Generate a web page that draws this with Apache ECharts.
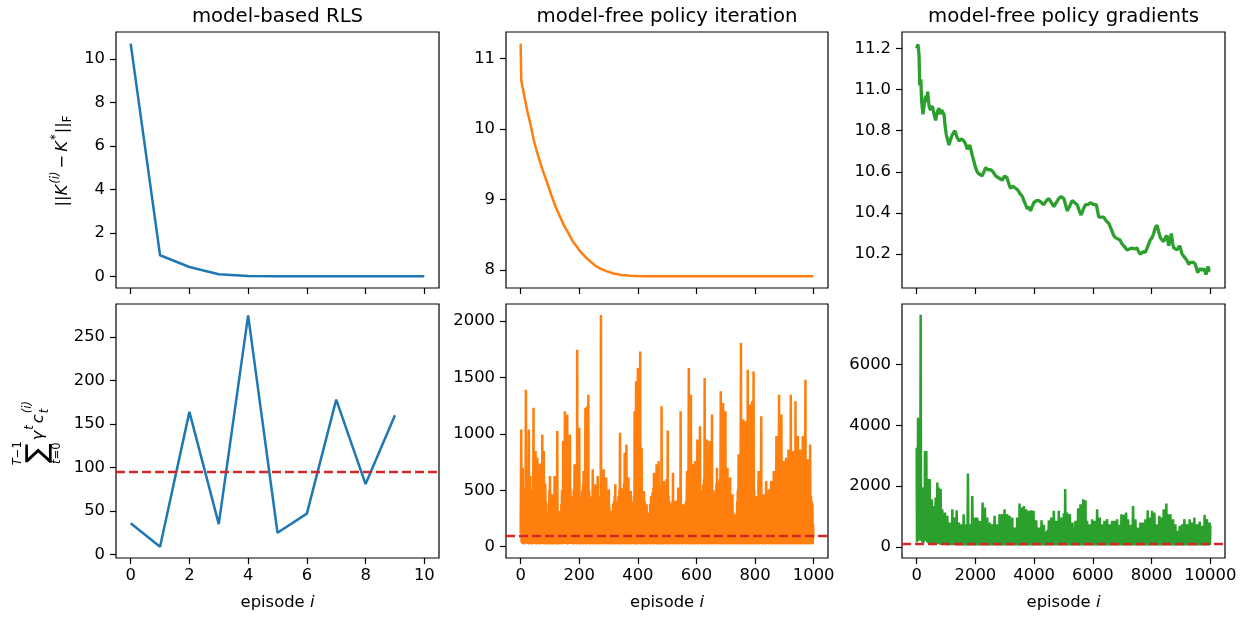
<!DOCTYPE html>
<html><head><meta charset="utf-8">
<script src="https://cdn.jsdelivr.net/npm/echarts@6/dist/echarts.min.js"></script>
<style>html,body{margin:0;padding:0;background:#fff}#c{width:1244px;height:617px}</style>
</head><body><div id="c"></div>
<script>
// ---------- data ----------
const panelTitles = ['model-based RLS', 'model-free policy iteration', 'model-free policy gradients'];
const optimalCost = 95;

const rlsEpisodes = [0, 1, 2, 3, 4, 5, 6, 7, 8, 9, 10];
const rlsGainError = [10.7, 0.97, 0.43, 0.10, 0.02, 0.005, 0.002, 0.001, 0, 0, 0];
const rlsCostEpisodes = [0, 1, 2, 3, 4, 5, 6, 7, 8, 9];
const rlsCost = [36, 9, 164, 35, 275, 25, 47, 178, 81, 160];

// [episode, ||K-K*||]
const piGainError = [[0,11.21],[2,10.69],[10,10.52],[22,10.27],[35,10.04],[45,9.84],[56,9.67],[68,9.51],[80,9.36],[91,9.23],[105,9.06],[119,8.90],[133,8.77],[147,8.64],[162,8.53],[176,8.42],[190,8.34],[204,8.26],[220,8.19],[238,8.12],[255,8.06],[272,8.02],[295,7.98],[317,7.95],[345,7.93],[374,7.92],[400,7.915],[430,7.91],[500,7.91],[600,7.91],[700,7.91],[800,7.91],[900,7.91],[999,7.91]];

// [episode, discounted cost]
const piCost = [[0,120],[2,1038],[3,40],[4,560],[5,30],[7,700],[8,25],[9,450],[10,40],[12,520],[13,20],[15,380],[16,35],[18,1391],[19,30],[20,520],[21,40],[23,600],[24,25],[25,430],[26,30],[28,1038],[29,20],[30,480],[31,40],[33,627],[34,25],[35,350],[36,30],[38,500],[39,20],[40,420],[41,35],[43,560],[44,1230],[45,30],[46,480],[47,25],[49,600],[50,40],[51,847],[52,30],[53,450],[54,20],[56,560],[57,788],[58,30],[60,400],[61,25],[62,520],[63,35],[65,480],[66,736],[67,20],[68,380],[69,40],[71,500],[72,30],[74,994],[75,25],[76,520],[77,40],[79,847],[80,30],[81,450],[82,20],[84,560],[85,35],[86,400],[87,25],[88,300],[89,40],[91,288],[92,20],[93,250],[94,30],[96,380],[97,25],[98,500],[99,35],[100,627],[101,20],
[102,300],[103,30],[105,380],[106,25],[108,465],[109,40],[110,320],[111,20],[113,400],[114,35],[116,627],[117,25],[118,300],[119,30],[121,400],[122,20],[123,350],[124,40],[125,1024],[126,30],[128,280],[129,20],[131,200],[132,35],[134,318],[135,25],[136,250],[137,30],[139,380],[140,20],
[141,500],[142,35],[143,450],[144,25],[145,936],[146,30],[147,520],[148,40],[150,600],[151,1200],[152,25],[153,500],[154,30],[156,620],[157,35],[159,1171],[160,20],[161,550],[162,30],[164,480],[165,600],[166,25],[168,994],[169,40],[170,520],[171,30],[173,450],[174,25],[176,348],[177,35],[178,300],[179,20],[181,500],[182,30],[184,730],[185,25],[186,420],[187,40],[189,400],[190,30],[191,600],[192,20],[193,1745],[194,35],[195,500],[196,25],[198,560],[199,30],[200,1053],[201,40],[202,450],[203,20],[205,380],[206,30],[207,348],[208,25],[210,500],[211,35],[213,560],[214,20],[215,670],[216,30],[218,560],[219,25],[221,1230],[222,40],[223,600],[224,20],[226,650],[227,1245],[228,30],[229,700],[230,35],[231,1347],[232,25],[234,500],[235,30],[236,420],[237,20],[238,436],[239,35],
[241,380],[242,25],[244,450],[245,30],[246,686],[247,20],[249,420],[250,35],[252,400],[253,25],[255,553],[256,30],[258,380],[259,20],[261,450],[262,40],[263,627],[264,25],[266,350],[267,30],[269,300],[270,20],[272,450],[273,35],[274,2053],[275,30],[276,600],[277,25],[279,500],[280,40],[281,450],[282,20],[283,686],[284,30],[286,420],[287,25],[289,500],[290,35],[292,612],[293,20],[295,400],[296,30],[298,300],[299,25],[301,509],[302,40],[303,350],[304,20],[306,250],[307,30],[308,200],[309,25],[311,318],[312,35],[313,250],[314,20],[316,380],[317,30],[318,400],[319,25],
[321,450],[322,40],[323,553],[324,20],[326,400],[327,30],[329,350],[330,25],[331,406],[332,35],[334,450],[335,20],[337,500],[338,30],[339,1009],[340,25],[341,480],[342,40],[344,520],[345,20],[347,494],[348,30],[350,420],[351,25],[353,560],[354,35],[355,832],[356,20],[358,500],[359,30],[361,906],[362,25],[363,450],[364,40],[366,520],[367,20],[368,612],[369,30],[371,400],[372,25],[374,450],[375,35],[376,494],[377,20],[379,400],[380,30],[382,350],[383,25],[384,377],[385,40],[387,450],[388,20],[389,1200],[390,30],[391,600],[392,25],[394,1465],[395,35],[396,650],[397,20],[398,700],[399,30],[400,1583],[401,40],[402,650],[403,25],[405,700],[406,30],[408,1730],[409,20],[410,600],[411,35],[413,877],[414,25],[415,450],[416,30],[418,420],[419,20],[421,494],[422,40],[424,400],[425,25],[427,350],[428,30],[430,377],[431,20],[433,300],[434,35],[436,300],[437,25],[439,288],[440,30],
[442,380],[443,20],[445,450],[446,35],[447,377],[448,25],[450,480],[451,30],[453,520],[454,20],[455,656],[456,40],[458,500],[459,25],[461,560],[462,30],[464,730],[465,20],[466,480],[467,35],[469,600],[470,25],[471,760],[472,30],[474,500],[475,20],[477,520],[478,40],[479,480],[480,25],[481,1245],[482,30],[484,500],[485,20],[487,450],[488,35],[489,583],[490,25],[492,420],[493,30],[495,480],[496,20],[498,600],[499,40],[500,500],[501,25],[502,1030],[503,30],[505,450],[506,20],[508,400],[509,35],[510,377],[511,25],[513,300],[514,30],[516,350],[517,20],[518,400],[519,40],
[520,656],[521,25],[523,300],[524,30],[526,350],[527,20],[529,406],[530,35],[532,300],[533,25],[535,380],[536,30],[538,524],[539,20],[541,350],[542,40],[544,400],[545,25],[546,1200],[547,30],[549,350],[550,20],[552,300],[553,377],[554,35],[556,300],[557,25],[559,350],[560,30],[561,377],[562,20],[564,400],[565,40],[567,450],[568,670],[569,25],
[571,500],[572,30],[574,1583],[575,20],[576,600],[577,35],[579,650],[580,25],[581,1347],[582,30],[584,550],[585,20],[587,600],[588,40],[589,730],[590,25],[592,550],[593,30],[595,760],[596,20],[598,600],[599,35],[601,650],[602,25],[603,950],[604,30],[606,560],[607,20],[609,600],[610,40],[612,1068],[613,25],[615,500],[616,30],[618,450],[619,20],[620,377],[621,35],[623,550],[624,25],[626,600],[627,30],[628,1495],[629,20],[631,600],[632,40],[634,650],[635,25],[636,950],[637,30],[639,550],[640,20],[642,600],[643,35],[645,936],[646,25],[648,600],[649,30],[651,650],[652,20],[653,1171],[654,40],[656,500],[657,25],[659,450],[660,30],[662,348],[663,20],[665,500],[666,35],[668,560],[669,25],[670,700],[671,30],[673,500],[674,20],[676,550],[677,583],[678,40],[680,600],[681,25],[683,1377],[684,30],[685,700],[686,20],[688,750],[689,35],[691,1274],[692,25],[693,700],[694,30],[696,750],[697,20],[699,1200],[700,40],[701,600],[702,25],[704,650],[705,30],[706,700],[707,20],[709,550],[710,35],[712,500],[713,25],[715,612],[716,30],[718,450],[719,20],
[721,400],[722,40],[723,465],[724,25],[726,300],[727,30],[728,250],[729,20],[731,230],[732,35],[733,288],[734,25],[736,250],[737,30],[739,400],[740,20],
[741,500],[742,35],[744,818],[745,25],[746,550],[747,30],[749,600],[750,20],[752,1804],[753,40],[754,600],[755,25],[757,600],[758,30],[760,1127],[761,20],[762,550],[763,35],[765,600],[766,25],[768,1112],[769,30],[770,550],[771,20],[773,600],[774,40],[775,1568],[776,25],[777,550],[778,30],[780,600],[781,20],[783,1259],[784,35],[785,550],[786,25],[788,600],[789,30],[790,1289],[791,20],[792,600],[793,40],[795,1553],[796,25],[797,500],[798,30],[800,450],[801,20],[803,450],[804,35],[806,400],[807,25],[809,450],[810,30],[812,670],[813,20],[815,450],[816,40],[818,480],[819,25],[821,1156],[822,30],[824,450],[825,20],[827,400],[828,35],[829,465],[830,25],[832,400],[833,30],[835,450],[836,20],[838,583],[839,40],[841,400],[842,25],[844,450],[845,30],[847,509],[848,20],[850,420],[851,35],[853,450],[854,25],[855,583],[856,30],[858,480],[859,20],[861,500],[862,40],[864,670],[865,25],[867,520],[868,30],[870,560],[871,20],[873,980],[874,35],[876,560],[877,25],[879,600],[880,30],[882,1347],[883,20],[884,600],[885,40],[887,650],[888,25],[890,1171],[891,30],[893,560],[894,20],[896,520],[897,35],[898,760],[899,25],[901,520],[902,30],[904,560],[905,20],[906,788],[907,40],[909,520],[910,25],[912,560],[913,30],[914,862],[915,20],[917,520],[918,35],[920,600],[921,25],[922,1347],[923,30],[925,560],[926,20],[928,600],[929,40],[930,847],[931,25],[933,560],[934,30],[936,600],[937,20],[938,1289],[939,35],[941,560],[942,25],[944,600],[945,30],[946,980],[947,20],[949,560],[950,40],[952,600],[953,25],[954,862],[955,30],[957,560],[958,20],[960,600],[961,35],[963,980],[964,25],[966,560],[967,30],[969,600],[970,20],[972,1480],[973,40],[975,560],[976,25],[978,600],[979,30],[980,774],[981,20],[983,520],[984,35],[986,560],[987,25],[988,906],[989,30],[991,450],[992,20],[994,400],[995,40],[996,377],[997,25],[998,200],[999,80]];

// [episode, ||K-K*||]
const pgGainError = [[0,11.20],[44,11.22],[80,11.17],[105,11.02],[140,11.05],[170,10.94],[215,10.88],[260,10.93],[306,10.97],[340,10.94],[374,10.99],[420,10.92],[470,10.90],[534,10.92],[590,10.88],[646,10.85],[700,10.89],[760,10.91],[800,10.88],[850,10.90],[930,10.88],[970,10.82],[1010,10.78],[1100,10.73],[1160,10.76],[1213,10.78],[1300,10.80],[1370,10.77],[1440,10.75],[1530,10.76],[1610,10.75],[1680,10.73],[1723,10.71],[1810,10.73],[1893,10.68],[1950,10.65],[2006,10.62],[2060,10.60],[2120,10.59],[2230,10.58],[2290,10.60],[2347,10.62],[2430,10.61],[2517,10.61],[2600,10.60],[2687,10.58],[2800,10.57],[2915,10.56],[3000,10.58],[3080,10.57],[3140,10.54],[3197,10.52],[3280,10.53],[3367,10.52],[3450,10.51],[3537,10.49],[3600,10.48],[3650,10.46],[3710,10.44],[3764,10.42],[3820,10.43],[3877,10.41],[3930,10.43],[3990,10.45],[4080,10.46],[4160,10.46],[4250,10.45],[4330,10.44],[4420,10.46],[4500,10.47],[4590,10.45],[4670,10.43],[4750,10.45],[4840,10.47],[4920,10.48],[5010,10.47],[5070,10.44],[5125,10.41],[5200,10.43],[5295,10.46],[5380,10.45],[5465,10.44],[5540,10.41],[5600,10.39],[5680,10.42],[5748,10.44],[5830,10.44],[5918,10.45],[6030,10.44],[6120,10.44],[6160,10.41],[6201,10.38],[6290,10.38],[6370,10.38],[6460,10.36],[6541,10.35],[6600,10.33],[6655,10.31],[6710,10.29],[6768,10.28],[6840,10.275],[6916,10.27],[6990,10.25],[7053,10.24],[7110,10.23],[7166,10.22],[7250,10.225],[7336,10.23],[7420,10.225],[7506,10.23],[7560,10.21],[7619,10.20],[7700,10.21],[7789,10.21],[7850,10.23],[7903,10.25],[7960,10.27],[8016,10.28],[8070,10.30],[8129,10.33],[8186,10.34],[8240,10.31],[8299,10.28],[8350,10.27],[8412,10.26],[8470,10.28],[8526,10.29],[8583,10.24],[8630,10.27],[8673,10.30],[8720,10.25],[8753,10.23],[8810,10.225],[8866,10.22],[8910,10.23],[8957,10.24],[9000,10.22],[9036,10.20],[9090,10.19],[9150,10.19],[9200,10.17],[9263,10.15],[9320,10.16],[9376,10.16],[9430,10.16],[9490,10.15],[9530,10.13],[9569,10.11],[9610,10.12],[9660,10.13],[9720,10.12],[9773,10.13],[9810,10.12],[9853,10.10],[9890,10.12],[9921,10.14],[9960,10.12],[10000,10.12]];

// [episode, discounted cost]
const pgCost = [[0,3265],[10,150],[25,3000],[35,200],[45,4250],[55,250],[65,3500],[72,200],[80,4200],[92,300],[105,2500],[118,200],[136,7644],[150,200],[170,1500],[190,150],[215,1951],[230,120],[250,1500],[265,200],[283,3154],[295,250],[306,1800],[318,200],[329,3154],[340,180],[352,1500],[362,150],[374,2236],[390,120],[408,1500],[425,130],[442,2236],[458,150],[476,1300],[492,100],[510,1566],[530,100],[550,1100],[570,90],[590,1347],[605,80],[618,1100],[632,100],[646,1620],[660,120],[675,1200],[690,90],[703,2115],[718,100],[732,1300],[746,80],[760,1951],[774,100],[788,1300],[802,70],[816,1900],[830,80],[845,1000],[860,60],[873,1239],[896,70],[918,900],[940,60],[964,1130],[985,80],[1004,850],[1024,60],[1043,1018],[1066,50],[1088,750],[1112,60],[1134,800],[1154,50],[1173,750],[1194,60],[1213,1239],[1233,50],[1253,800],[1273,60],[1293,965],[1310,50],[1327,750],[1345,60],[1361,1206],[1380,40],[1400,700],[1420,50],[1440,800],[1460,40],[1480,650],[1500,50],[1520,745],[1540,40],[1560,700],[1580,50],[1600,1075],[1617,40],[1633,700],[1650,50],[1667,745],[1690,40],[1706,650],[1726,50],[1746,2411],[1763,40],[1780,650],[1797,50],[1814,745],[1834,40],[1853,700],[1873,50],[1893,1675],[1916,40],[1938,700],[1961,50],[1984,965],[2004,40],[2023,700],[2043,50],[2063,965],[2083,40],[2103,650],[2123,50],[2143,855],[2168,40],[2194,700],[2220,50],[2245,1458],[2265,40],[2285,750],[2305,50],[2324,1293],[2344,40],[2364,700],[2384,50],[2404,965],[2424,40],[2444,650],[2464,50],[2483,800],[2506,40],[2528,600],[2551,50],[2574,745],[2594,40],[2614,650],[2634,50],[2653,1018],[2676,40],[2698,650],[2721,50],[2744,745],[2764,40],[2784,700],[2804,50],[2823,1075],[2846,40],[2868,700],[2891,50],[2914,1075],[2934,40],[2954,750],[2974,50],[2993,1239],[3016,40],[3038,750],[3061,50],[3084,1075],[3104,40],[3124,700],[3144,50],[3163,1018],[3186,40],[3208,650],[3231,50],[3254,965],[3277,40],[3300,550],[3323,50],[3345,636],[3365,40],[3385,600],[3405,50],[3424,965],[3444,40],[3464,750],[3484,50],[3503,1425],[3520,40],[3537,800],[3554,50],[3571,1293],[3591,40],[3611,800],[3631,50],[3651,1347],[3671,40],[3691,750],[3711,50],[3730,1239],[3753,40],[3776,700],[3799,50],[3821,1185],[3841,40],[3861,700],[3881,50],[3900,1206],[3920,40],[3940,700],[3960,50],[3979,1185],[4002,40],[4025,650],[4048,50],[4070,876],[4093,40],[4116,550],[4139,50],[4161,636],[4184,40],[4207,550],[4230,50],[4252,876],[4272,40],[4292,600],[4312,50],[4331,723],[4351,40],[4371,500],[4391,50],[4410,504],[4433,40],[4456,550],[4479,50],[4501,876],[4521,40],[4541,600],[4561,50],[4580,965],[4603,40],[4626,650],[4649,50],[4671,1185],[4691,40],[4711,650],[4731,50],[4751,855],[4774,40],[4796,650],[4819,50],[4841,1185],[4861,40],[4881,650],[4901,50],[4921,965],[4943,40],[4966,650],[4989,50],[5011,1100],[5023,40],[5034,700],[5046,50],[5057,1900],[5074,40],[5091,650],[5108,50],[5125,1130],[5148,40],[5170,650],[5193,50],[5215,1075],[5238,40],[5261,600],[5284,50],[5306,800],[5332,40],[5357,600],[5383,50],[5408,855],[5431,40],[5454,650],[5477,50],[5499,1272],[5519,40],[5539,750],[5559,50],[5578,1403],[5601,40],[5624,800],[5647,50],[5669,1566],[5689,40],[5709,850],[5729,50],[5748,1534],[5762,40],[5776,700],[5791,50],[5805,855],[5828,40],[5851,600],[5874,50],[5896,745],[5916,40],[5936,600],[5956,50],[5975,910],[5995,40],[6015,650],[6035,50],[6054,855],[6077,40],[6100,650],[6123,50],[6145,1239],[6168,40],[6191,650],[6214,50],[6236,965],[6256,40],[6276,600],[6296,50],[6315,745],[6335,40],[6355,600],[6375,50],[6395,855],[6418,40],[6440,600],[6463,50],[6485,910],[6508,40],[6531,600],[6554,50],[6576,745],[6596,40],[6616,600],[6636,50],[6655,855],[6675,40],[6695,600],[6715,50],[6735,855],[6758,40],[6780,600],[6803,50],[6825,910],[6845,40],[6865,550],[6885,50],[6905,723],[6922,40],[6939,600],[6956,50],[6973,1075],[6993,40],[7013,650],[7033,50],[7052,1055],[7072,40],[7092,650],[7112,50],[7132,1130],[7149,40],[7166,650],[7183,50],[7200,910],[7220,40],[7240,550],[7260,50],[7279,723],[7302,40],[7325,600],[7348,50],[7370,1347],[7390,40],[7410,650],[7430,50],[7449,910],[7469,40],[7489,550],[7509,50],[7528,636],[7551,40],[7574,550],[7597,50],[7619,800],[7639,40],[7659,550],[7679,50],[7698,800],[7721,40],[7744,600],[7767,50],[7789,910],[7809,40],[7829,650],[7849,50],[7868,1206],[7885,40],[7902,650],[7919,50],[7936,965],[7956,40],[7976,650],[7996,50],[8016,1185],[8036,40],[8056,650],[8076,50],[8095,1130],[8118,40],[8141,600],[8164,50],[8186,745],[8206,40],[8226,600],[8246,50],[8265,1018],[8288,40],[8311,650],[8334,50],[8356,965],[8370,40],[8385,650],[8399,50],[8413,1239],[8436,40],[8458,700],[8481,50],[8503,1425],[8520,40],[8537,700],[8554,50],[8571,1075],[8588,40],[8605,650],[8622,50],[8639,1075],[8662,40],[8685,600],[8708,50],[8730,910],[8750,40],[8770,550],[8790,50],[8810,745],[8830,40],[8850,450],[8870,50],[8889,526],[8906,40],[8923,500],[8940,50],[8957,690],[8977,40],[8997,550],[9017,50],[9036,745],[9056,40],[9076,600],[9096,50],[9116,910],[9139,40],[9161,600],[9184,50],[9206,745],[9229,40],[9252,600],[9275,50],[9297,910],[9317,40],[9337,600],[9357,50],[9376,800],[9396,40],[9416,600],[9436,50],[9456,965],[9479,40],[9501,600],[9524,50],[9546,745],[9569,40],[9592,600],[9615,50],[9637,833],[9657,40],[9677,550],[9697,50],[9716,690],[9739,40],[9762,600],[9785,50],[9807,1055],[9827,40],[9847,650],[9867,50],[9886,910],[9909,40],[9932,600],[9955,50],[9977,800],[9990,60],[10000,700]];

// tick values
const xTicks = [[0,2,4,6,8,10],[0,200,400,600,800,1000],[0,2000,4000,6000,8000,10000]];
const yTicksTop = [[0,2,4,6,8,10],[8,9,10,11],[10.2,10.4,10.6,10.8,11.0,11.2]];
const yTicksBottom = [[0,50,100,150,200,250],[0,500,1000,1500,2000],[0,2000,4000,6000]];

// ---------- layout / style ----------
const FONT = 'DejaVu Sans';
const TICK_FS = 16.4;
const colors = ['#1f77b4', '#ff7f0e', '#2ca02c'];
const RED = '#d62728';
const gridLeft = [116, 506, 902];
const gridWidth = [323, 322, 323];
const xRange = [[-0.5, 10.5], [-50, 1049], [-500, 10500]];
const yRangeTop = [[-0.535, 11.235], [7.745, 11.375], [10.035, 11.28]];
const yRangeBottom = [[-4, 288], [-100, 2150], [-370, 8000]];

const grids = [], xAxes = [], yAxes = [], series = [];
for (let r = 0; r < 2; r++) {
  for (let c = 0; c < 3; c++) {
    const gi = grids.length;
    grids.push({left: gridLeft[c], width: gridWidth[c], top: r === 0 ? 32 : 304, height: r === 0 ? 256 : 254,
      show: true, borderColor: '#000', borderWidth: 1.2, backgroundColor: 'transparent'});
    xAxes.push({type: 'value', gridIndex: gi, min: xRange[c][0], max: xRange[c][1], position: 'bottom',
      splitLine: {show: false}, axisLine: {show: false, onZero: false},
      axisTick: {show: true, inside: false, length: 6, lineStyle: {color: '#000', width: 1.2}, customValues: xTicks[c]},
      axisLabel: {show: r === 1, customValues: xTicks[c], fontSize: TICK_FS, color: '#000', fontFamily: FONT, margin: 10, hideOverlap: false,
        formatter: v => String(v)},
      name: r === 1 ? 'episode {it|i}' : '', nameLocation: 'middle', nameGap: 37,
      nameTextStyle: {fontSize: TICK_FS, color: '#000', fontFamily: FONT, rich: {it: {fontStyle: 'italic', fontSize: TICK_FS, color: '#000', fontFamily: FONT}}}});
    const yr = r === 0 ? yRangeTop[c] : yRangeBottom[c];
    const yt = r === 0 ? yTicksTop[c] : yTicksBottom[c];
    yAxes.push({type: 'value', gridIndex: gi, min: yr[0], max: yr[1], position: 'left',
      splitLine: {show: false}, axisLine: {show: false, onZero: false},
      axisTick: {show: true, inside: false, length: 6, lineStyle: {color: '#000', width: 1.2}, customValues: yt},
      axisLabel: {show: true, customValues: yt, fontSize: TICK_FS, color: '#000', fontFamily: FONT, margin: 11, hideOverlap: false,
        formatter: (r === 0 && c === 2) ? (v => Number(v).toFixed(1)) : (v => String(v))}});
  }
}

function lineSeries(gi, data, color, width, withRef) {
  const s = {type: 'line', xAxisIndex: gi, yAxisIndex: gi, data: data, showSymbol: false, symbol: 'none',
    lineStyle: {color: color, width: width}, itemStyle: {color: color}, silent: true, animation: false, z: 3};
  if (withRef) {
    s.markLine = {silent: true, symbol: ['none', 'none'], label: {show: false}, animation: false,
      lineStyle: {color: RED, width: 2.4, type: [9, 4]}, data: [{yAxis: optimalCost}], z: 5};
  }
  return s;
}
series.push(lineSeries(0, rlsEpisodes.map((e, i) => [e, rlsGainError[i]]), colors[0], 2.5, false));
series.push(lineSeries(1, piGainError, colors[1], 2.5, false));
series.push(lineSeries(2, pgGainError, colors[2], 3.3, false));
series.push(lineSeries(3, rlsCostEpisodes.map((e, i) => [e, rlsCost[i]]), colors[0], 2.5, true));
series.push(lineSeries(4, piCost, colors[1], 2.5, true));
series.push(lineSeries(5, pgCost, colors[2], 2.5, true));

// ---------- math-style labels ----------
const mctx = document.createElement('canvas').getContext('2d');
function tw(t, size, italic) { mctx.font = (italic ? 'italic ' : '') + size + 'px "' + FONT + '"'; return mctx.measureText(t).width; }
function txt(t, x, y, size, italic) {
  return {type: 'text', x: x, y: y, silent: true,
    style: {text: t, fill: '#000', fontSize: size, fontFamily: FONT, fontStyle: italic ? 'italic' : 'normal', align: 'left', verticalAlign: 'middle'}};
}
function seq(tokens) {
  let x = 0; const out = [];
  tokens.forEach(k => { x += (k.pre || 0); out.push(txt(k.t, x, k.dy || 0, k.s, k.i)); x += tw(k.t, k.s, k.i) + (k.post || 0); });
  out.forEach(o => { o.x -= x / 2; });
  return out;
}
const B = 16.4, S = 11.5;
const topLabel = seq([
  {t: '||', s: B}, {t: 'K', s: B, i: true}, {t: '(i)', s: S, i: true, dy: -7, pre: 1},
  {t: '−', s: B, pre: 3, post: 3}, {t: 'K', s: B, i: true}, {t: '*', s: S, dy: -7, pre: 1},
  {t: '||', s: B, pre: 1}, {t: 'F', s: S, dy: 5}
]);
function sumLabel() {
  const out = [];
  const sigS = 29;
  const wS = tw('∑', sigS, false);
  out.push(txt('∑', 0, 1, sigS, false));
  const wT = tw('T', S, true), wM = tw('−1', S, false);
  const up0 = wS / 2 - (wT + wM) / 2;
  out.push(txt('T', up0, -19, S, true)); out.push(txt('−1', up0 + wT, -19, S, false));
  const wt = tw('t', S, true), wE = tw('=0', S, false);
  const lo0 = wS / 2 - (wt + wE) / 2;
  out.push(txt('t', lo0, 20, S, true)); out.push(txt('=0', lo0 + wt, 20, S, false));
  let x = wS + 3;
  out.push(txt('γ', x, 2, B, true)); x += tw('γ', B, true) + 1;
  out.push(txt('t', x, -7, S, true)); x += tw('t', S, true) + 2;
  out.push(txt('c', x, 2, B, true)); x += tw('c', B, true) + 1;
  out.push(txt('t', x, 8, S, true)); out.push(txt('(i)', x, -9, S, true)); x += tw('(i)', S, true);
  out.forEach(o => { o.x -= x / 2; });
  return out;
}

const gridCenters = gridLeft.map((l, i) => l + gridWidth[i] / 2);
const graphics = panelTitles.map((t, i) => ({type: 'text', x: gridCenters[i], y: 17, silent: true,
  style: {text: t, fill: '#000', fontSize: 19.7, fontFamily: FONT, align: 'center', verticalAlign: 'middle'}}));
graphics.push({type: 'group', x: 63, y: 161, rotation: Math.PI / 2, children: topLabel});
graphics.push({type: 'group', x: 37, y: 432, rotation: Math.PI / 2, children: sumLabel()});

const chart = echarts.init(document.getElementById('c'), null, {renderer: 'canvas'});
chart.setOption({
  animation: false,
  backgroundColor: '#fff',
  textStyle: {fontFamily: FONT},
  grid: grids, xAxis: xAxes, yAxis: yAxes, series: series,
  graphic: graphics
});
</script>
</body></html>
